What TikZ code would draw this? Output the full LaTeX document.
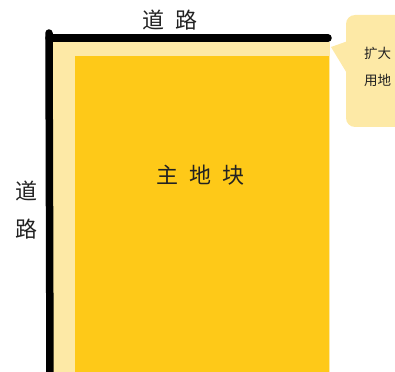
\documentclass[tikz,border=0pt]{standalone}
\usepackage{fontspec}
\setmainfont{Noto Sans CJK SC}
\usetikzlibrary{positioning}
\definecolor{plotlight}{HTML}{FDE9A6}
\definecolor{plotgold}{HTML}{FEC918}
\definecolor{inkgrey}{HTML}{222222}

\begin{document}
\begin{tikzpicture}[x=1pt,y=-1pt,
    road/.style={line width=7.5pt,line cap=round},
    bigtxt/.style={font=\fontsize{22}{26}\selectfont,text=inkgrey,inner sep=0pt},
    smalltxt/.style={font=\fontsize{13.5}{16}\selectfont,text=inkgrey,inner sep=0pt,anchor=west}]
  \useasboundingbox (0,0) rectangle (395,371);
  \clip (0,0) rectangle (395,371);
  % plot areas
  \fill[plotlight] (52,42) rectangle (330,375);
  \fill[plotgold] (75,56) rectangle (329,375);
  % callout
  \fill[plotlight,rounded corners=9pt] (346,15) rectangle (430,127);
  \fill[plotlight] (331,47) -- (348,41) -- (348,75) -- cycle;
  % roads
  \coordinate (roadN) at (49,33);
  \coordinate (roadS) at (50,380);
  \coordinate (corner) at (49,38);
  \coordinate (roadE) at (328,38);
  \draw[road] (roadN) -- (roadS);
  \draw[road] (corner) -- (roadE);
  % labels
  \node[bigtxt] (toplbl) at (170,20) {道\hspace{0.5em}路};
  \node[bigtxt] (leftlbl1) at (26,191) {道};
  \node[bigtxt] (leftlbl2) at (26,229) {路};
  \node[bigtxt] (mainlbl) at (200,175) {主\hspace{0.5em}地\hspace{0.5em}块};
  \node[smalltxt] (note1) at (364,53) {扩大};
  \node[smalltxt] (note2) at (364,80) {用地};
\end{tikzpicture}
\end{document}
